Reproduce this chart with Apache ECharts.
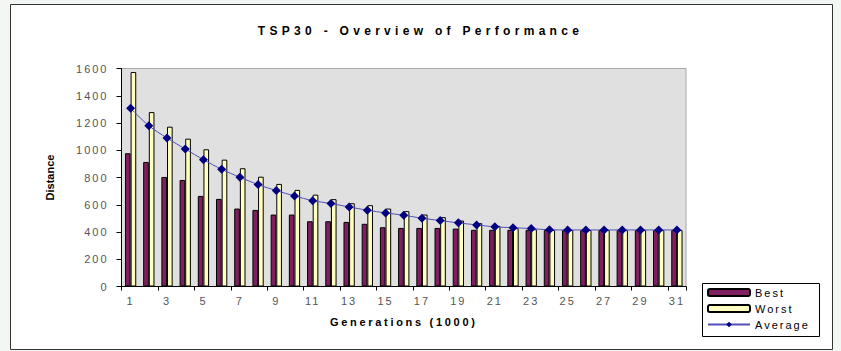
<!DOCTYPE html>
<html>
<head>
<meta charset="utf-8">
<script src="https://cdn.jsdelivr.net/npm/echarts@6/dist/echarts.min.js"></script>
<style>
  html, body { margin: 0; padding: 0; background: #f3f7f3; }
  #chart { width: 841px; height: 351px; }
</style>
</head>
<body>
<div id="chart"></div>
<script>
// generations 1..31 (thousands)
const generations = [];
for (let g = 1; g <= 31; g++) generations.push(String(g));

// values
const best = [978, 914, 804, 782, 665, 643, 572, 562, 528, 528, 479, 479, 474, 460, 435, 430,
  430, 430, 425, 416, 416, 416, 416, 414, 414, 414, 414, 414, 414, 414, 414];
const worst = [1574, 1280, 1173, 1085, 1007, 931, 868, 806, 753, 709, 674, 641, 611, 597, 572, 553,
  528, 509, 484, 465, 445, 428, 420, 414, 414, 414, 414, 414, 414, 414, 414];
const average = [1308, 1180, 1090, 1009, 931, 860, 802, 748, 704, 665, 630, 609, 584, 560, 540, 523,
  501, 484, 467, 452, 438, 432, 425, 416, 415, 415, 415, 415, 415, 415, 415];

const font = 'Arial, "Liberation Sans", sans-serif';

const chart = echarts.init(document.getElementById('chart'), null, { renderer: 'svg' });

chart.setOption({
  animation: false,
  backgroundColor: 'transparent',
  title: {
    text: 'TSP30 - Overview of Performance',
    left: 'center',
    top: 25,
    padding: 0,
    textStyle: { fontFamily: font, fontSize: 12, fontWeight: 'bold', color: '#000' }
  },
  graphic: [
    {
      type: 'rect', z: -10, silent: true,
      shape: { x: 10.5, y: 4.5, width: 822, height: 345 },
      style: { fill: '#fff', stroke: '#333', lineWidth: 1 }
    },
    {
      type: 'rect', z: 10, silent: true,
      shape: { x: 702.5, y: 283.5, width: 117, height: 53 },
      style: { fill: '#fff', stroke: '#000', lineWidth: 1 }
    }
  ],
  legend: {
    orient: 'vertical',
    left: 707,
    top: 287,
    padding: 0,
    itemWidth: 42,
    itemHeight: 7,
    itemGap: 5,
    z: 20,
    textStyle: { fontFamily: font, fontSize: 11, color: '#000' },
    data: ['Best', 'Worst', 'Average']
  },
  grid: {
    left: 121.5,
    right: 155,
    top: 68.5,
    bottom: 64.5,
    show: true,
    backgroundColor: '#e0e0e0',
    borderColor: '#a8a8a8',
    borderWidth: 1
  },
  xAxis: {
    type: 'category',
    data: generations,
    name: 'Generations (1000)',
    nameLocation: 'middle',
    nameGap: 30,
    nameTextStyle: { fontFamily: font, fontSize: 11, fontWeight: 'bold', color: '#000' },
    axisLine: { lineStyle: { color: '#000', width: 1 } },
    axisTick: { show: true, length: 4, lineStyle: { color: '#000' } },
    axisLabel: { interval: 1, margin: 9, fontFamily: font, fontSize: 11, color: '#555' },
    splitLine: { show: false }
  },
  yAxis: {
    type: 'value',
    min: 0,
    max: 1600,
    interval: 200,
    name: 'Distance',
    nameLocation: 'middle',
    nameGap: 66,
    nameTextStyle: { fontFamily: font, fontSize: 11, fontWeight: 'bold', color: '#000' },
    axisLine: { show: true, lineStyle: { color: '#000', width: 1 } },
    axisTick: { show: true, length: 5, lineStyle: { color: '#000' } },
    axisLabel: {
      margin: 13, fontFamily: font, fontSize: 11, color: '#555',
      formatter: v => String(v)
    },
    splitLine: { show: false }
  },
  series: [
    {
      name: 'Best',
      type: 'bar',
      data: best,
      barGap: '0%',
      barCategoryGap: '38%',
      itemStyle: { color: '#801f60', borderColor: '#000', borderWidth: 1 }
    },
    {
      name: 'Worst',
      type: 'bar',
      data: worst,
      itemStyle: { color: '#ffffc0', borderColor: '#000', borderWidth: 1 }
    },
    {
      name: 'Average',
      type: 'line',
      data: average,
      smooth: 0.3,
      symbol: 'diamond',
      symbolSize: 9,
      lineStyle: { color: '#5050b8', width: 1 },
      itemStyle: { color: '#000080' },
      z: 5
    }
  ]
});

// the original text is letter-spaced; apply it on the svg text nodes
function spaceText() {
  const texts = document.querySelectorAll('#chart svg text');
  texts.forEach(t => {
    const s = t.textContent;
    if (s.indexOf('TSP30') === 0) t.style.letterSpacing = '4.3px';
    else if (s === 'Distance') t.style.letterSpacing = '0px';
    else if (s.indexOf('Generations') === 0) t.style.letterSpacing = '2.7px';
    else t.style.letterSpacing = '2px';
  });
}
chart.on('finished', spaceText);
spaceText();
</script>
</body>
</html>
